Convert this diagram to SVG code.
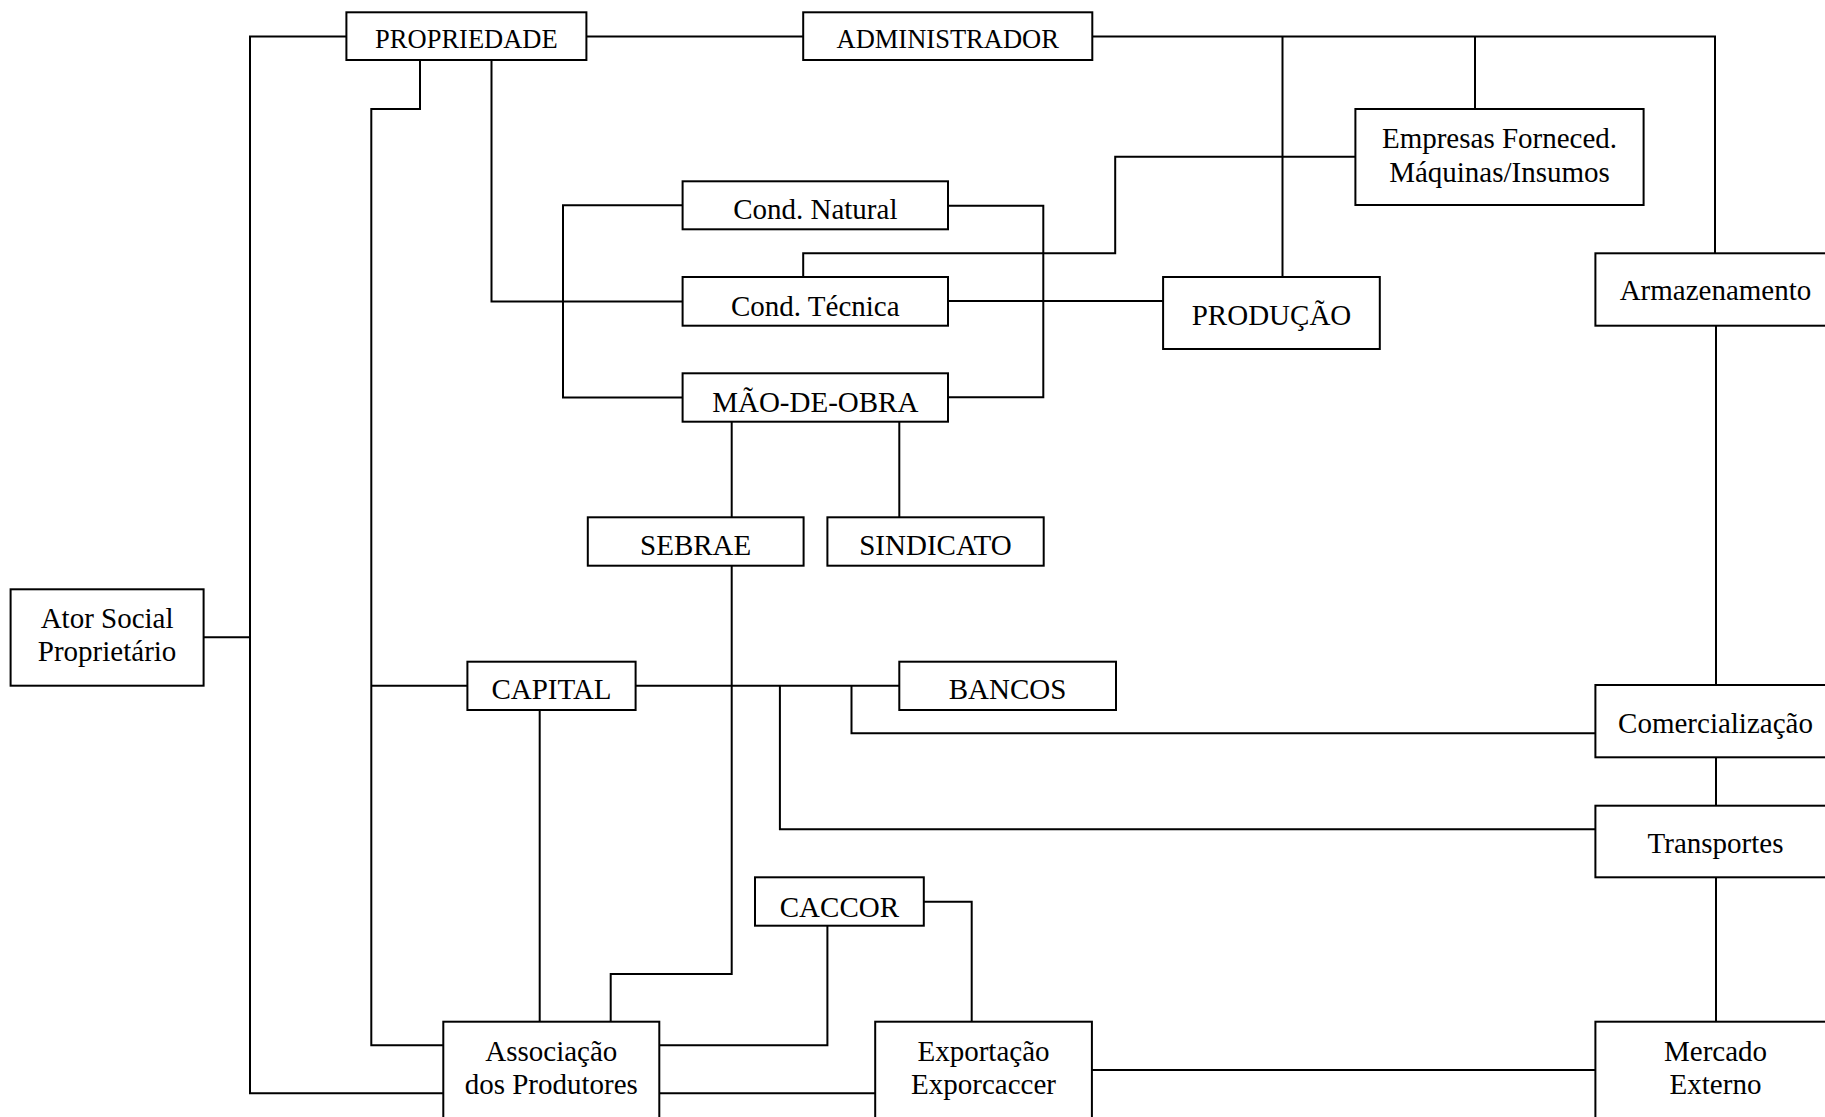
<svg xmlns="http://www.w3.org/2000/svg" width="1825" height="1117" viewBox="0 0 1825 1117">
<style>
.box{fill:#fff;stroke:#000;stroke-width:2}
.t{font-family:"Liberation Serif","Times New Roman",serif;font-size:29px;fill:#000;text-anchor:middle}
.s{font-size:26.5px}
.c{fill:none;stroke:#000;stroke-width:2}
</style>
<rect width="1825" height="1117" fill="#fff"/>
<g id="connectors" class="c">
<path d="M346,36.5 H250 V1093.3 H443.3"/>
<path d="M203.6,637.3 H250"/>
<path d="M586.4,36.5 H803.2"/>
<path d="M1092.3,36.5 H1715 V253.3"/>
<path d="M1282.5,36.5 V276.7"/>
<path d="M1475,36.5 V109"/>
<path d="M420,60 V109 H371.3 V1045.3 H443.3"/>
<path d="M371.3,685.7 H467.4"/>
<path d="M491.5,60 V301.5 H682.6"/>
<path d="M682.6,205.3 H563 V397.5 H682.6"/>
<path d="M948,205.7 H1043.3 V397.3 H948"/>
<path d="M948,301 H1163.1"/>
<path d="M803.2,277 V253.3 H1115.2 V156.7 H1355.4"/>
<path d="M1716,325.7 V685"/>
<path d="M731.7,421.7 V517.3"/>
<path d="M899.3,421.7 V517.3"/>
<path d="M731.7,565.7 V974 H610.7 V1021.7"/>
<path d="M635.6,685.7 H899.3"/>
<path d="M779.9,685.7 V829.3 H1595.4"/>
<path d="M851.5,685.7 V733.3 H1595.4"/>
<path d="M539.7,710 V1021.7"/>
<path d="M1716,757.3 V805.7"/>
<path d="M1716,877.3 V1021.7"/>
<path d="M827.4,925.7 V1045.3 H659.3"/>
<path d="M923.8,901.7 H971.7 V1021.7"/>
<path d="M659.3,1093.3 H875.2"/>
<path d="M1091.9,1070 H1595.4"/>
</g>
<g id="propriedade"><rect class="box" x="346.4" y="12.3" width="240" height="47.7"/><text class="t s" x="466.4" y="48">PROPRIEDADE</text></g>
<g id="administrador"><rect class="box" x="803.2" y="12.3" width="289.1" height="47.7"/><text class="t s" x="947.7" y="48">ADMINISTRADOR</text></g>
<g id="empresas"><rect class="box" x="1355.4" y="109" width="288.2" height="96"/><text class="t" x="1499.5" y="148">Empresas Forneced.</text><text class="t" x="1499.5" y="181.5">Máquinas/Insumos</text></g>
<g id="cond-natural"><rect class="box" x="682.6" y="181.3" width="265.4" height="48"/><text class="t" x="815.3" y="219.3">Cond. Natural</text></g>
<g id="cond-tecnica"><rect class="box" x="682.6" y="277" width="265.4" height="48.7"/><text class="t" x="815.3" y="316.3">Cond. Técnica</text></g>
<g id="mao-de-obra"><rect class="box" x="682.6" y="373.3" width="265.4" height="48.4"/><text class="t" x="815.3" y="412.3">MÃO-DE-OBRA</text></g>
<g id="producao"><rect class="box" x="1163.1" y="277" width="216.7" height="72"/><text class="t" x="1271.5" y="324.5">PRODUÇÃO</text></g>
<g id="armazenamento"><rect class="box" x="1595.4" y="253.3" width="241" height="72.4"/><text class="t" x="1715.5" y="300.3">Armazenamento</text></g>
<g id="sebrae"><rect class="box" x="587.8" y="517.3" width="215.8" height="48.4"/><text class="t" x="695.7" y="555.3">SEBRAE</text></g>
<g id="sindicato"><rect class="box" x="827.4" y="517.3" width="216.3" height="48.4"/><text class="t" x="935.5" y="555.3">SINDICATO</text></g>
<g id="ator-social"><rect class="box" x="10.6" y="589.3" width="193" height="96.4"/><text class="t" x="107.1" y="628.3">Ator Social</text><text class="t" x="107.1" y="661.3">Proprietário</text></g>
<g id="capital"><rect class="box" x="467.4" y="661.7" width="168.2" height="48.3"/><text class="t" x="551.5" y="699.3">CAPITAL</text></g>
<g id="bancos"><rect class="box" x="899.3" y="661.7" width="216.7" height="48.3"/><text class="t" x="1007.6" y="699.3">BANCOS</text></g>
<g id="comercializacao"><rect class="box" x="1595.4" y="685" width="241" height="72.3"/><text class="t" x="1715.5" y="733.3">Comercialização</text></g>
<g id="transportes"><rect class="box" x="1595.4" y="805.7" width="241" height="71.6"/><text class="t" x="1715.5" y="853.3">Transportes</text></g>
<g id="caccor"><rect class="box" x="755" y="877.3" width="168.8" height="48.4"/><text class="t" x="839.4" y="917.3">CACCOR</text></g>
<g id="associacao"><rect class="box" x="443.3" y="1021.7" width="216" height="110"/><text class="t" x="551.3" y="1061.3">Associação</text><text class="t" x="551.3" y="1094.3">dos Produtores</text></g>
<g id="exportacao"><rect class="box" x="875.2" y="1021.7" width="216.7" height="110"/><text class="t" x="983.5" y="1061.3">Exportação</text><text class="t" x="983.5" y="1094.3">Exporcaccer</text></g>
<g id="mercado-externo"><rect class="box" x="1595.4" y="1021.7" width="241" height="110"/><text class="t" x="1715.5" y="1061.3">Mercado</text><text class="t" x="1715.5" y="1094.3">Externo</text></g>
</svg>
